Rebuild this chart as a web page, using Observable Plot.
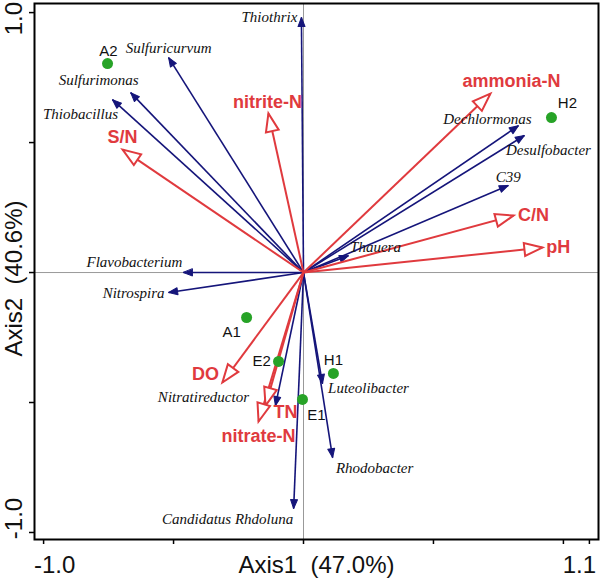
<!DOCTYPE html>
<html><head><meta charset="utf-8">
<script src="https://cdn.jsdelivr.net/npm/d3@7"></script>
<script src="https://cdn.jsdelivr.net/npm/@observablehq/plot@0.6"></script>
<style>body{margin:0;background:#fff;} #chart{width:600px;height:578px;}</style>
</head><body><div id="chart"></div>
<script>
// ---- data (RDA biplot scores) ----
const speciesNames = ["Thiothrix","Sulfuricurvum","Sulfurimonas","Thiobacillus","Flavobacterium","Nitrospira","Dechlormonas","Desulfobacter","C39","Thauera","Nitratireductor","Candidatus Rhdoluna","Luteolibacter","Rhodobacter"];
const speciesX = [-0.008,-0.519,-0.665,-0.735,-0.462,-0.519,0.827,0.850,0.788,0.173,-0.108,-0.038,0.073,0.112];
const speciesY = [0.981,0.827,0.692,0.665,0.000,-0.077,0.565,0.527,0.335,0.065,-0.512,-0.908,-0.427,-0.712];

const envNames = ["ammonia-N","nitrite-N","S/N","C/N","pH","DO","TN","nitrate-N"];
const envX = [0.719,-0.135,-0.696,0.808,0.919,-0.312,-0.146,-0.173];
const envY = [0.688,0.612,0.473,0.219,0.096,-0.423,-0.512,-0.573];

const siteNames = ["A2","H2","A1","E2","H1","E1"];
const siteX = [-0.754,0.954,-0.219,-0.096,0.115,-0.004];
const siteY = [0.804,0.596,-0.173,-0.342,-0.388,-0.488];

const xTicks = [-1.0,-0.5,0,0.5,1.0,1.1];
const yTicks = [-1.0,-0.5,0,0.5,1.0];
const xTickLabels = ["-1.0","1.1"];
const xTickLabelValues = [-1.0,1.1];
const yTickLabels = ["1.0","-1.0"];
const yTickLabelValues = [1.0,-1.0];
const xTitle = "Axis1  (47.0%)";
const yTitle = "Axis2  (40.6%)";

// ---- layout (pixel offsets of labels) ----
const labelOffset = {
  "Thiothrix":[-32,0],"Sulfuricurvum":[0,-9],"Sulfurimonas":[-32,-12],"Thiobacillus":[-32,15],
  "Flavobacterium":[-49,-10],"Nitrospira":[-35,1],"Dechlormonas":[-31,-6],"Desulfobacter":[24,15],
  "C39":[0,-8],"Thauera":[27,-8],"Nitratireductor":[-72,-8],"Candidatus Rhdoluna":[-66,11],
  "Luteolibacter":[46,5],"Rhodobacter":[42,11],
  "ammonia-N":[21,-12],"nitrite-N":[-1,-11],"S/N":[0,-12],"C/N":[20,0],"pH":[16,0],
  "DO":[-17,-8],"TN":[20,7],"nitrate-N":[0,15],
  "A2":[1,-12],"H2":[16,-14],"A1":[-15,15],"E2":[-17,0],"H1":[0,-13],"E1":[14,16]
};

const species = speciesNames.map((n,i)=>({name:n,x:speciesX[i],y:speciesY[i]}));
const env = envNames.map((n,i)=>({name:n,x:envX[i],y:envY[i]}));
const sites = siteNames.map((n,i)=>({name:n,x:siteX[i],y:siteY[i]}));

const NAVY = "#15157a", RED = "#e03a3e", GREEN = "#27a327";
const SANS = "Liberation Sans, Arial, sans-serif";
const SERIF = "Liberation Serif, Times New Roman, serif";

const triangle = {draw(ctx, l, r){ ctx.moveTo(0,-l); ctx.lineTo(-r,0); ctx.lineTo(r,0); ctx.closePath(); }};
const angle = d => Math.atan2(d.x, d.y) * 180 / Math.PI;

function labels(data, opts){
  return data.map(d => Plot.text([d], {x:"x", y:"y", text:"name", dx:labelOffset[d.name][0], dy:labelOffset[d.name][1], textAnchor:"middle", lineAnchor:"middle", ...opts}));
}
const axisText = {fontSize: 24, fill: "#111", textAnchor: "middle", lineAnchor: "middle"};

const chart = Plot.plot({
  width: 600, height: 578,
  marginLeft: 34, marginRight: 2, marginTop: 3, marginBottom: 39,
  x: {domain: [-1.035, 1.135], axis: null},
  y: {domain: [-1.027, 1.035], axis: null},
  style: {fontFamily: SANS, background: "white", overflow: "visible"},
  marks: [
    Plot.ruleX([0], {stroke: "#999", strokeWidth: 1}),
    Plot.ruleY([0], {stroke: "#999", strokeWidth: 1}),
    Plot.axisX({ticks: xTicks, tickFormat: () => "", tickSize: 5, label: null, stroke: "black", strokeWidth: 1.5}),
    Plot.axisY({ticks: yTicks, tickFormat: () => "", tickSize: 5, label: null, stroke: "black", strokeWidth: 1.5}),
    // species arrows
    Plot.link(species, {x1: 0, y1: 0, x2: "x", y2: "y", stroke: NAVY, strokeWidth: 1.6}),
    Plot.vector(species, {x: "x", y: "y", rotate: angle, length: 9, r: 3.5, anchor: "end", shape: triangle, fill: NAVY, stroke: NAVY, strokeWidth: 1}),
    // environment arrows
    Plot.link(env, {x1: 0, y1: 0, x2: "x", y2: "y", stroke: RED, strokeWidth: 2}),
    Plot.vector(env, {x: "x", y: "y", rotate: angle, length: 18, r: 6.5, anchor: "end", shape: triangle, fill: "white", stroke: RED, strokeWidth: 2, strokeLinejoin: "miter"}),
    // sites
    Plot.dot(sites, {x: "x", y: "y", r: 5.5, fill: GREEN, stroke: "none"}),
    ...labels(species, {fontFamily: SERIF, fontStyle: "italic", fontSize: 15, fill: "#111"}),
    ...labels(env, {fontFamily: SANS, fontWeight: "bold", fontSize: 18, fill: RED}),
    ...labels(sites, {fontFamily: SANS, fontSize: 15, fill: "#111"}),
    // tick labels
    Plot.text([0], {x: xTickLabelValues[0], text: () => xTickLabels[0], frameAnchor: "bottom", dx: 11, dy: 26, ...axisText}),
    Plot.text([0], {x: xTickLabelValues[1], text: () => xTickLabels[1], frameAnchor: "bottom", dx: -10, dy: 26, ...axisText}),
    Plot.text([0], {y: yTickLabelValues[0], text: () => yTickLabels[0], frameAnchor: "left", rotate: -90, dx: -20, dy: 6, ...axisText}),
    Plot.text([0], {y: yTickLabelValues[1], text: () => yTickLabels[1], frameAnchor: "left", rotate: -90, dx: -20, dy: -14, ...axisText}),
    // axis titles
    Plot.text([xTitle], {text: d => d, frameAnchor: "bottom", dy: 26, ...axisText}),
    Plot.text([yTitle], {text: d => d, frameAnchor: "left", rotate: -90, dx: -20, dy: 7, ...axisText}),
    Plot.frame({stroke: "black", strokeWidth: 2})
  ]
});
document.getElementById("chart").appendChild(chart);
</script>
</body></html>
